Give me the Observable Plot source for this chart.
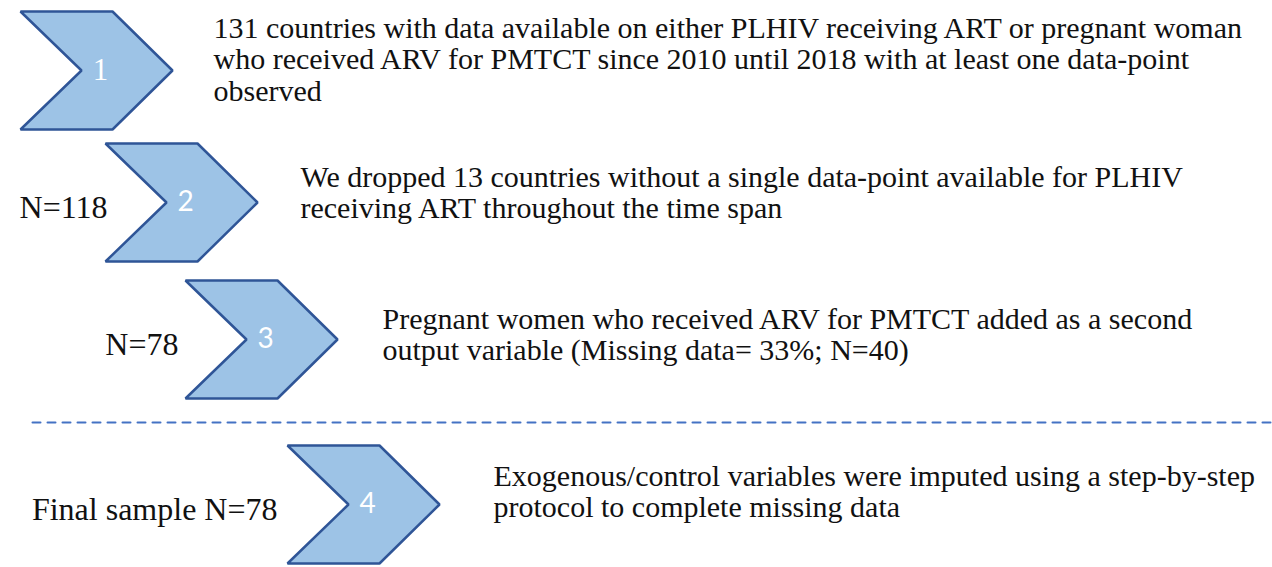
<!DOCTYPE html>
<html>
<head>
<meta charset="utf-8">
<script src="https://cdn.jsdelivr.net/npm/d3@7"></script>
<script src="https://cdn.jsdelivr.net/npm/@observablehq/plot@0.6"></script>
<style>
  html, body { margin: 0; padding: 0; background: #ffffff; }
  #chart svg { display: block; }
</style>
</head>
<body>
<div id="chart"></div>
<script>
// ---- Content ----
const steps = ["1", "2", "3", "4"];
const descriptions = [
  ["131 countries with data available on either PLHIV receiving ART or pregnant woman",
   "who received ARV for PMTCT since 2010 until 2018 with at least one data-point",
   "observed"],
  ["We dropped 13 countries without a single data-point available for PLHIV",
   "receiving ART throughout the time span"],
  ["Pregnant women who received ARV for PMTCT added as a second",
   "output variable (Missing data= 33%; N=40)"],
  ["Exogenous/control variables were imputed using a step-by-step",
   "protocol to complete missing data"]
];
const sampleLabels = ["", "N=118", "N=78", "Final sample N=78"];

// ---- Layout (pixel coordinates of the diagram) ----
const W = 1272, H = 567;
const chevronLeft = [20, 105, 185, 287];
const chevronTop = [11, 143, 280, 445];
const chevronHeight = 118;
const shoulder = 92, tipOffset = 152, notchOffset = 61;
const descX = [213, 300, 382, 493];
const descBaseline = [37, 186, 328, 485];
const descFont = 30, descLine = 32;
const labelRight = [0, 107, 178, 277];
const separatorY = 422;

const chevronPts = [];
steps.forEach((s, i) => {
  const x0 = chevronLeft[i], t = chevronTop[i], b = t + chevronHeight, m = (t + b) / 2;
  [[x0, t], [x0 + shoulder, t], [x0 + tipOffset, m], [x0 + shoulder, b], [x0, b], [x0 + notchOffset, m]]
    .forEach(([x, y]) => chevronPts.push({step: s, x, y}));
});
const numberRows = steps.map((s, i) => ({
  step: s, i, x: chevronLeft[i] + 80, y: chevronTop[i] + chevronHeight / 2
}));
const lh = descLine / descFont;
const descRows = descriptions.map((lines, i) => ({
  text: lines.join("\n"), x: descX[i], y: descBaseline[i] - 0.71 * lh * descFont
}));
const labelRows = sampleLabels.map((t, i) => ({
  text: t, x: labelRight[i], y: chevronTop[i] + chevronHeight / 2 + 5
})).filter(d => d.text);
const separator = [{x: 32, y: separatorY}, {x: W, y: separatorY}];

const serif = "Liberation Serif";
const sans = "Lato";

const chart = Plot.plot({
  width: W,
  height: H,
  margin: 0,
  x: {domain: [0, W], range: [0, W], axis: null},
  y: {domain: [0, H], range: [0, H], axis: null},
  style: {background: "#ffffff", fontFamily: serif},
  marks: [
    Plot.line(separator, {x: "x", y: "y", stroke: "#4472c4", strokeWidth: 2, strokeDasharray: "8,7"}),
    Plot.line(chevronPts, {
      x: "x", y: "y", z: "step", curve: "linear-closed",
      fill: "#9dc3e6", stroke: "#2f5597", strokeWidth: 2.5, strokeLinejoin: "miter"
    }),
    Plot.text(numberRows.filter(d => d.i === 0), {
      x: "x", y: "y", text: "step", fill: "#ffffff", fontSize: 31, fontFamily: serif
    }),
    Plot.text(numberRows.filter(d => d.i > 0), {
      x: "x", y: "y", text: "step", fill: "#ffffff", fontSize: 28, fontFamily: sans
    }),
    Plot.text(descRows, {
      x: "x", y: "y", text: "text", textAnchor: "start", lineAnchor: "top",
      lineHeight: lh, fontSize: descFont, fill: "#111111", fontFamily: serif
    }),
    Plot.text(labelRows, {
      x: "x", y: "y", text: "text", textAnchor: "end", fontSize: 32, fill: "#111111", fontFamily: serif
    })
  ]
});
document.getElementById("chart").appendChild(chart);
</script>
</body>
</html>
